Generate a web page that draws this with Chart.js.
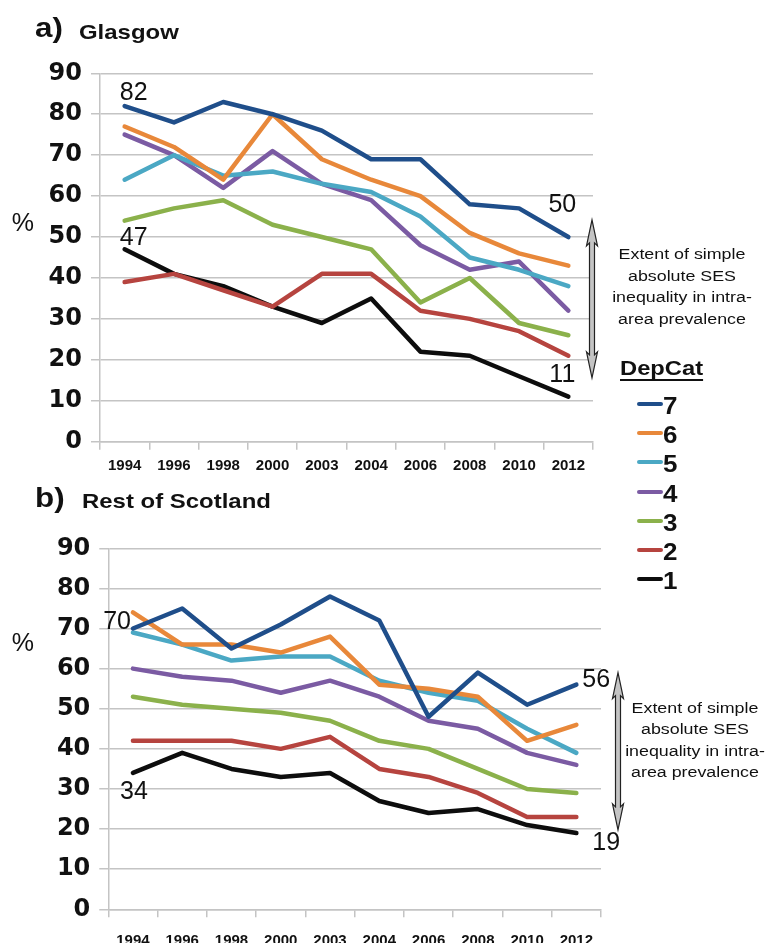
<!DOCTYPE html>
<html>
<head>
<meta charset="utf-8">
<script src="https://cdn.jsdelivr.net/npm/chart.js@4.4.1/dist/chart.umd.min.js"></script>
<style>
  body { margin: 0; width: 766px; height: 943px; overflow: hidden; position: relative; background: #fff; }
  canvas { position: absolute; left: 0; }
  .t { position: absolute; white-space: nowrap; font-family: 'Liberation Sans', Arial, sans-serif; color: #111; transform-origin: left top; }
  .b { font-weight: bold; }
  .note { width: 200px; text-align: center; font-size: 15.5px; line-height: 21.5px; transform-origin: center top; transform: scaleX(1.15); }
</style>
</head>
<body>
<canvas id="chartA" width="766" height="480" style="top:0"></canvas>
<canvas id="chartB" width="766" height="500" style="top:480px"></canvas>

<div class="t b" style="left:35px; top:14px; font-size:28px; line-height:28px; transform:scaleX(1.12)">a)</div>
<div class="t b" style="left:79px; top:20.7px; font-size:21px; line-height:21px; transform:scaleX(1.14)">Glasgow</div>
<div class="t b" style="left:35px; top:484px; font-size:28px; line-height:28px; transform:scaleX(1.12)">b)</div>
<div class="t b" style="left:81.5px; top:490.2px; font-size:21px; line-height:21px; transform:scaleX(1.14)">Rest of Scotland</div>

<div class="t" style="left:11.7px; top:210.3px; font-size:25px; line-height:25px">%</div>
<div class="t" style="left:11.7px; top:630.3px; font-size:25px; line-height:25px">%</div>

<div class="t note" style="left:581.7px; top:243.2px">Extent of simple<br>absolute SES<br>inequality in intra-<br>area prevalence</div>
<div class="t note" style="left:595px; top:696.6px">Extent of simple<br>absolute SES<br>inequality in intra-<br>area prevalence</div>

<div class="t b" style="left:620px; top:357.2px; font-size:21px; line-height:21px; transform:scaleX(1.13); text-decoration:underline; text-decoration-thickness:2px; text-underline-offset:4px">DepCat</div>
<div id="legend"></div>

<script>
// categories and values
var years = ['1994', '1996', '1998', '2000', '2003', '2004', '2006', '2008', '2010', '2012'];
var depcats = ['7', '6', '5', '4', '3', '2', '1'];

// a) Glasgow
var glasgow7 = [82, 78, 83, 80, 76, 69, 69, 58, 57, 50];
var glasgow6 = [77, 72, 64, 80, 69, 64, 60, 51, 46, 43];
var glasgow5 = [64, 70, 65, 66, 63, 61, 55, 45, 42, 38];
var glasgow4 = [75, 70, 62, 71, 63, 59, 48, 42, 44, 32];
var glasgow3 = [54, 57, 59, 53, 50, 47, 34, 40, 29, 26];
var glasgow2 = [39, 41, 37, 33, 41, 41, 32, 30, 27, 21];
var glasgow1 = [47, 41, 38, 33, 29, 35, 22, 21, 16, 11];

// b) Rest of Scotland
var rest7 = [70, 75, 65, 71, 78, 72, 48, 59, 51, 56];
var rest6 = [74, 66, 66, 64, 68, 56, 55, 53, 42, 46];
var rest5 = [69, 66, 62, 63, 63, 57, 54, 52, 45, 39];
var rest4 = [60, 58, 57, 54, 57, 53, 47, 45, 39, 36];
var rest3 = [53, 51, 50, 49, 47, 42, 40, 35, 30, 29];
var rest2 = [42, 42, 42, 40, 43, 35, 33, 29, 23, 23];
var rest1 = [34, 39, 35, 33, 34, 27, 24, 25, 21, 19];

var yTicks = [0, 10, 20, 30, 40, 50, 60, 70, 80, 90];

var lineColors = ['#1F4E8A', '#E8883A', '#4BA8C4', '#7B5BA3', '#8BB14B', '#B6443F', '#0d0d0d'];
var gridColor = '#c4c4c4';

function makeDatasets(series) {
    return series.map(function (values, i) {
        return {
            label: depcats[i],
            data: values,
            borderColor: lineColors[i],
            backgroundColor: lineColors[i],
            borderWidth: 4.5,
            pointRadius: 0,
            tension: 0,
            borderJoinStyle: 'round',
            borderCapStyle: 'round'
        };
    });
}

// end-point labels and the double arrow, placed through the chart scales
var annotatePlugin = {
    id: 'annotate',
    afterDatasetsDraw: function (chart, args, opts) {
        var ctx = chart.ctx;
        var xs = chart.scales.x, ys = chart.scales.y;
        ctx.save();
        ctx.fillStyle = '#111';
        ctx.font = '25px "Liberation Sans", Arial, sans-serif';
        ctx.textBaseline = 'alphabetic';
        opts.labels.forEach(function (l) {
            var v = chart.data.datasets[l.ds].data[l.i];
            ctx.textAlign = l.align || 'center';
            ctx.fillText(String(v), xs.getPixelForValue(l.i) + l.dx, ys.getPixelForValue(v) + l.dy);
        });
        var a = opts.arrow;
        var x = chart.chartArea.right + a.dx;
        var y1 = ys.getPixelForValue(a.from), y2 = ys.getPixelForValue(a.to);
        var head = 26, hw = 5.5, sw = 2.5;
        ctx.beginPath();
        ctx.moveTo(x, y1);
        ctx.lineTo(x + hw, y1 + head);
        ctx.lineTo(x + sw, y1 + head - 3);
        ctx.lineTo(x + sw, y2 - head + 3);
        ctx.lineTo(x + hw, y2 - head);
        ctx.lineTo(x, y2);
        ctx.lineTo(x - hw, y2 - head);
        ctx.lineTo(x - sw, y2 - head + 3);
        ctx.lineTo(x - sw, y1 + head - 3);
        ctx.lineTo(x - hw, y1 + head);
        ctx.closePath();
        ctx.fillStyle = '#c4c4c4';
        ctx.fill();
        ctx.strokeStyle = '#222';
        ctx.lineWidth = 1.2;
        ctx.stroke();
        ctx.restore();
    }
};

function makeChart(id, series, box, labels, arrow) {
    return new Chart(document.getElementById(id).getContext('2d'), {
        type: 'line',
        data: { labels: years, datasets: makeDatasets(series) },
        options: {
            responsive: false,
            animation: false,
            devicePixelRatio: 1,
            layout: { padding: { left: 0, right: box.right, top: box.top, bottom: 0 } },
            scales: {
                x: {
                    offset: true,
                    grid: { drawOnChartArea: false, drawTicks: true, tickLength: 8, offset: true, color: gridColor, lineWidth: 1.5 },
                    border: { display: true, color: gridColor, width: 1.5 },
                    ticks: {
                        autoSkip: false, maxRotation: 0, minRotation: 0, padding: box.xPad, color: '#111',
                        font: { family: '"Liberation Sans", Arial, sans-serif', size: 15, weight: 'bold' }
                    },
                    afterFit: function (scale) { scale.height = box.xHeight; }
                },
                y: {
                    min: 0,
                    max: 90,
                    afterBuildTicks: function (scale) { scale.ticks = yTicks.map(function (v) { return { value: v }; }); },
                    grid: { color: gridColor, lineWidth: 1.5, tickLength: 9 },
                    border: { display: true, color: gridColor, width: 1.5 },
                    ticks: {
                        padding: 9, color: '#111',
                        font: { family: '"DejaVu Sans", sans-serif', size: 24, weight: 'bold' }
                    },
                    afterFit: function (scale) { scale.width = box.left; }
                }
            },
            plugins: {
                legend: { display: false },
                title: { display: false },
                tooltip: { enabled: false },
                annotate: { labels: labels, arrow: arrow }
            }
        },
        plugins: [annotatePlugin]
    });
}

var chartA = makeChart('chartA',
    [glasgow7, glasgow6, glasgow5, glasgow4, glasgow3, glasgow2, glasgow1],
    { left: 100, right: 173, top: 73.3, xHeight: 38.3, xPad: 7 },
    [
        { ds: 0, i: 0, dx: 9, dy: -6 },
        { ds: 6, i: 0, dx: 9, dy: -4 },
        { ds: 0, i: 9, dx: -6, dy: -25 },
        { ds: 6, i: 9, dx: -6, dy: -15 }
    ],
    { dx: -1, from: 54.2, to: 15.6 });

var chartB = makeChart('chartB',
    [rest7, rest6, rest5, rest4, rest3, rest2, rest1],
    { left: 108.3, right: 165, top: 68.3, xHeight: 70.7, xPad: 15 },
    [
        { ds: 0, i: 0, dx: -2, dy: 0, align: 'right' },
        { ds: 6, i: 0, dx: 1, dy: 26 },
        { ds: 0, i: 9, dx: 6, dy: 2.5, align: 'left' },
        { ds: 6, i: 9, dx: 16, dy: 17, align: 'left' }
    ],
    { dx: 17, from: 59, to: 19.8 });

// legend built from the series names and colours
var legend = document.getElementById('legend');
depcats.forEach(function (name, i) {
    var cy = 404.3 + i * 29.07;
    var line = document.createElement('div');
    line.style.cssText = 'position:absolute;left:637px;width:26px;height:4px;border-radius:2px;top:' + (cy - 2) + 'px;background:' + lineColors[i];
    legend.appendChild(line);
    var txt = document.createElement('div');
    txt.className = 't b';
    txt.style.cssText += 'left:663px;font-size:23px;line-height:23px;transform:scaleX(1.13);top:' + (cy + 10.5 - 19.5) + 'px';
    txt.textContent = name;
    legend.appendChild(txt);
});
</script>
</body>
</html>
